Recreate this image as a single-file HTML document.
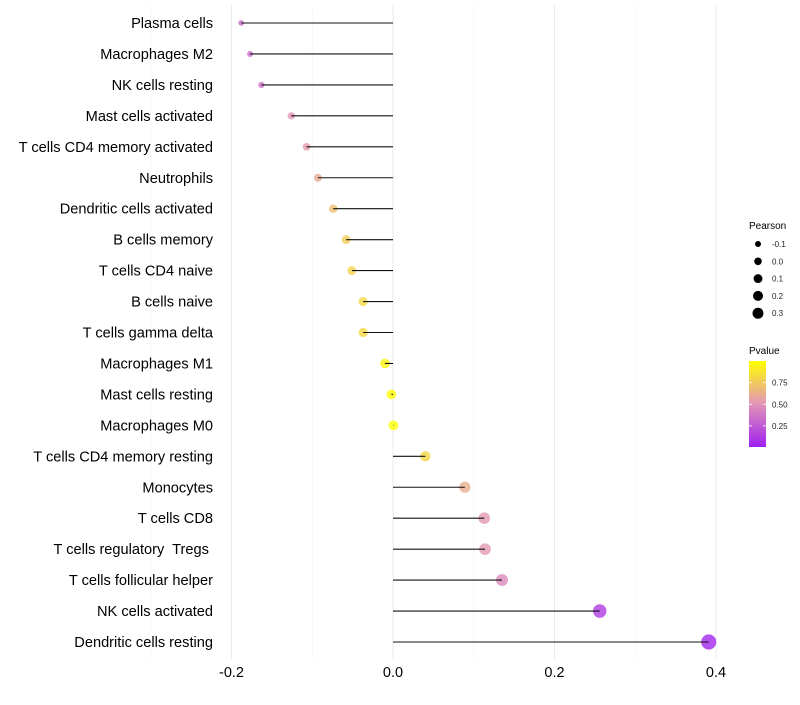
<!DOCTYPE html>
<html><head><meta charset="utf-8"><style>
body{margin:0;background:#fff;font-family:"Liberation Sans",sans-serif}
#ylabels text{white-space:pre}
</style></head><body>
<svg id="chart" width="800" height="700" xmlns="http://www.w3.org/2000/svg" font-family="Liberation Sans, sans-serif">
<defs><linearGradient id="pg" x1="0" y1="1" x2="0" y2="0">
<stop offset="0" stop-color="#a020f0"/><stop offset="0.5" stop-color="#e294b8"/><stop offset="1" stop-color="#ffff00"/></linearGradient></defs>
<g id="grid"></g>
<g id="marks"></g>
<g id="ylabels"></g>
<g id="xlabels"></g>
<g>
<text x="749" y="229" font-size="10" fill="#000">Pearson</text>
<g id="sizeleg"></g>
</g>
<g>
<text x="749" y="354" font-size="10" fill="#000">Pvalue</text>
<rect x="749" y="361" width="17" height="86" fill="url(#pg)"/>
<g id="colleg"></g>
</g>
</svg>
<script>
const categories=["Plasma cells","Macrophages M2","NK cells resting","Mast cells activated","T cells CD4 memory activated","Neutrophils","Dendritic cells activated","B cells memory","T cells CD4 naive","B cells naive","T cells gamma delta","Macrophages M1","Mast cells resting","Macrophages M0","T cells CD4 memory resting","Monocytes","T cells CD8","T cells regulatory  Tregs ","T cells follicular helper","NK cells activated","Dendritic cells resting"];
const pearson=[-0.188,-0.177,-0.163,-0.126,-0.107,-0.093,-0.074,-0.058,-0.051,-0.037,-0.037,-0.010,-0.002,0.0005,0.040,0.089,0.113,0.114,0.135,0.256,0.391];
const pvalues=[0.32,0.33,0.36,0.5,0.53,0.6,0.7,0.76,0.8,0.82,0.82,0.95,0.99,1.0,0.8,0.62,0.52,0.52,0.45,0.12,0.03];
const xTicks=[-0.2,0.0,0.2,0.4];
const xTickLabels=["-0.2","0.0","0.2","0.4"];
const sizeLegend=[-0.1,0.0,0.1,0.2,0.3];
const sizeLegendLabels=["-0.1","0.0","0.1","0.2","0.3"];
const colTicks=[0.25,0.5,0.75];
const colTickLabels=["0.25","0.50","0.75"];
const NS="http://www.w3.org/2000/svg";
const X=v=>393+v*807.5;
const Y=i=>23+i*30.95;
const R=v=>Math.sqrt(Math.max(3,24+85*v));
const RL=v=>Math.sqrt(Math.max(2,14.3+53*v));
function mix(a,b,t){return a.map((c,i)=>Math.round(c+(b[i]-c)*t));}
function col(p){const s0=[160,32,240],s1=[226,148,184],s2=[255,255,0];
 const c=p<0.5?mix(s0,s1,p/0.5):mix(s1,s2,(p-0.5)/0.5);return `rgb(${c.join(',')})`;}
function mk(t,a,parent){const e=document.createElementNS(NS,t);for(const k in a)e.setAttribute(k,a[k]);parent.appendChild(e);return e;}
const grid=document.getElementById('grid'),marks=document.getElementById('marks'),yl=document.getElementById('ylabels'),xl=document.getElementById('xlabels');
[-0.3,-0.1,0.1,0.3].forEach(v=>{const l=mk('line',{x1:X(v),x2:X(v),y1:5,y2:660,stroke:'#f4f4f4','stroke-width':0.6},grid);

});
xTicks.forEach((v,i)=>{const l=mk('line',{x1:X(v),x2:X(v),y1:5,y2:660,stroke:'#ebebeb','stroke-width':1},grid);


const t=mk('text',{x:X(v),y:677,'font-size':14.5,'text-anchor':'middle',fill:'#000'},xl);t.textContent=xTickLabels[i];

});
categories.forEach((c,i)=>{
 const t=mk('text',{x:213,y:Y(i)+5,'font-size':14.6,'text-anchor':'end',fill:'#000'},yl);t.textContent=c;
 
 
 const d=mk('circle',{cx:X(pearson[i]),cy:Y(i),r:R(pearson[i]),fill:col(pvalues[i]),'fill-opacity':0.8},marks);
 
 
 const l=mk('line',{x1:X(0),x2:X(pearson[i]),y1:Y(i),y2:Y(i),stroke:'#111','stroke-width':1.1},marks);
 
 
});
const sl=document.getElementById('sizeleg');
sizeLegend.forEach((v,i)=>{const y=244+i*17.3;
 const c=mk('circle',{cx:758,cy:y,r:RL(v),fill:'#000'},sl);
 
 
 const t=mk('text',{x:772,y:y+3,'font-size':8,fill:'#222'},sl);t.textContent=sizeLegendLabels[i];
 
 });
const cl=document.getElementById('colleg');
colTicks.forEach((v,i)=>{const y=447.5-v*86.5;
 const l=mk('line',{x1:749,x2:752,y1:y,y2:y,stroke:'#fff','stroke-width':0.8},cl);
 
 
 const l2=mk('line',{x1:763,x2:766,y1:y,y2:y,stroke:'#fff','stroke-width':0.8},cl);
 
 
 const t=mk('text',{x:772,y:y+3,'font-size':8,fill:'#222'},cl);t.textContent=colTickLabels[i];
 
 });
</script>
</body></html>
